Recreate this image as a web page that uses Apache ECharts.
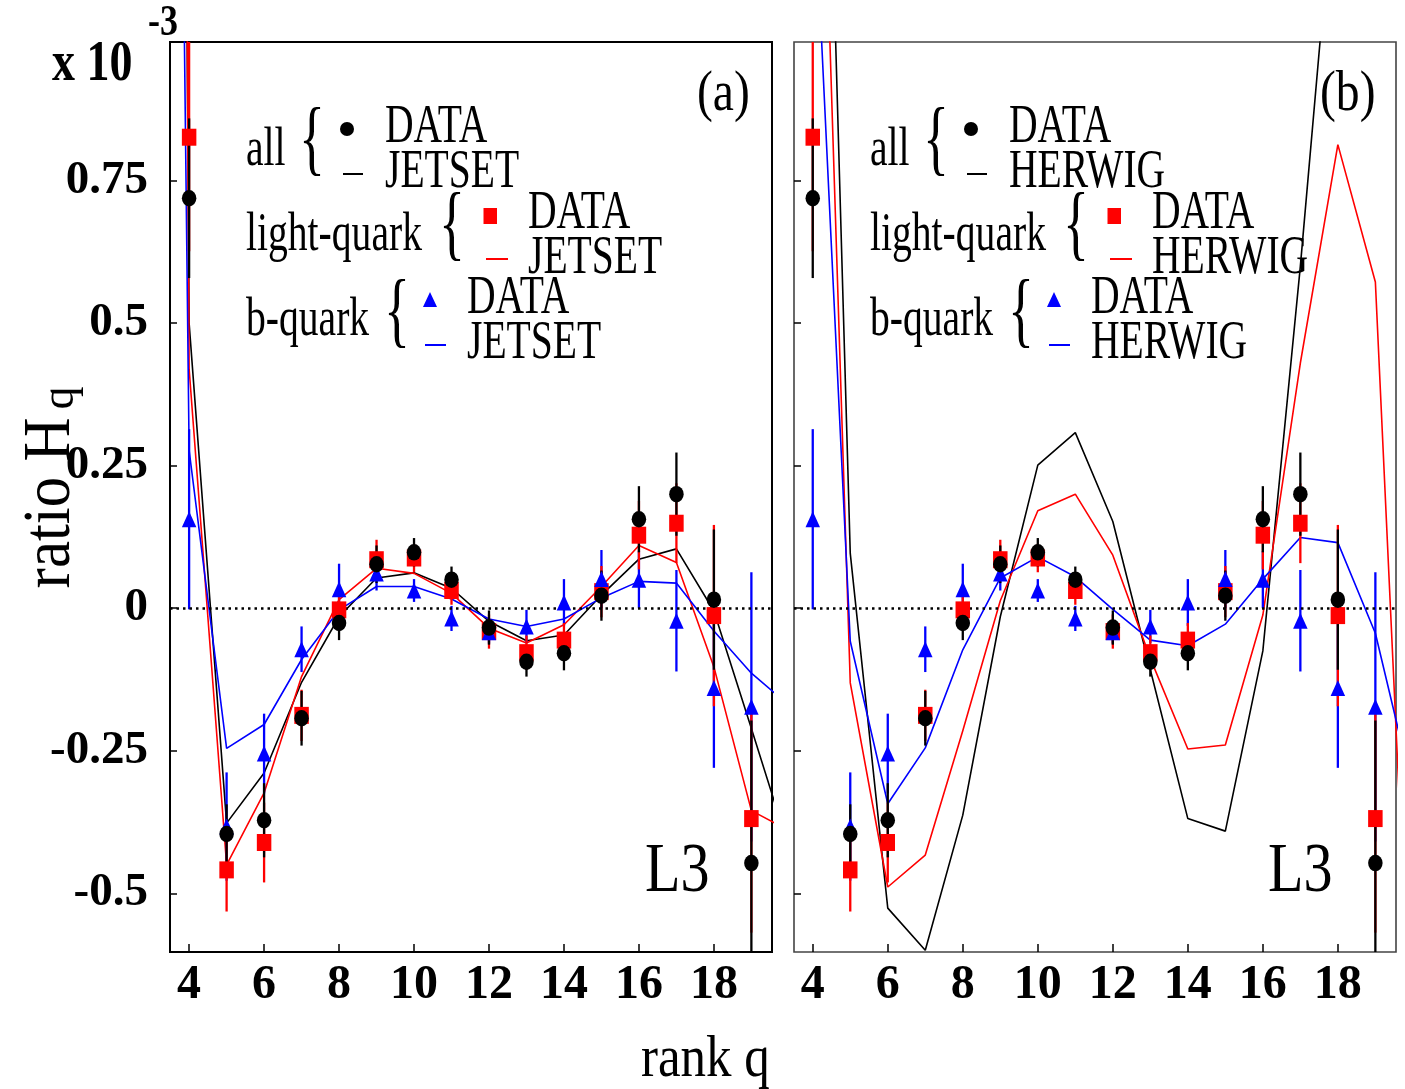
<!DOCTYPE html>
<html><head><meta charset="utf-8">
<script src="https://cdn.jsdelivr.net/npm/echarts@6/dist/echarts.min.js"></script>
<style>html,body{margin:0;padding:0;background:#fff}#c{width:1405px;height:1089px}</style>
</head><body><div id="c"></div>
<script>
// ---------------- data ----------------
const qData = [4,5,6,7,8,9,10,11,12,13,14,15,16,17,18,19];
const allVals  = [0.719,-0.396,-0.372,-0.193,-0.026,0.077,0.098,0.050,-0.034,-0.094,-0.079,0.022,0.156,0.200,0.015,-0.447];
const allErr   = [0.14,0.052,0.065,0.048,0.03,0.033,0.025,0.023,0.03,0.026,0.03,0.044,0.058,0.073,0.123,0.25];
const lightVals= [0.826,-0.459,-0.411,-0.188,-0.003,0.085,0.088,0.031,-0.041,-0.078,-0.056,0.029,0.128,0.149,-0.013,-0.369];
const lightErr = [0.2,0.073,0.07,0.045,0.03,0.035,0.025,0.025,0.03,0.03,0.03,0.045,0.06,0.07,0.159,0.2];
const bVals    = [0.156,-0.383,-0.255,-0.072,0.033,0.061,0.031,-0.018,-0.042,-0.032,0.010,0.051,0.050,-0.022,-0.140,-0.173];
const bErr     = [0.158,0.095,0.07,0.04,0.045,0.03,0.02,0.022,0.02,0.029,0.041,0.051,0.05,0.089,0.14,0.236];

const qJetset = [3,4,5,6,7,8,9,10,11,12,13,14,15,16,17,18,19,20];
const jetsetAll   = [10,0.50,-0.377,-0.289,-0.13,-0.015,0.053,0.062,0.035,-0.023,-0.057,-0.047,0.023,0.086,0.104,-0.005,-0.211,-0.42];
const jetsetLight = [12.3,0.42,-0.45,-0.324,-0.12,0.015,0.070,0.061,0.026,-0.035,-0.061,-0.029,0.038,0.110,0.080,-0.103,-0.355,-0.39];
const jetsetB     = [6,0.277,-0.246,-0.204,-0.09,-0.003,0.038,0.038,0.016,-0.019,-0.032,-0.019,0.018,0.047,0.044,-0.04,-0.114,-0.17];

const qHerwig = [4,5,6,7,8,9,10,11,12,13,14,15,16,17,18,19,20];
const herwigAll   = [2.4,0.096,-0.526,-0.60,-0.363,-0.015,0.251,0.308,0.152,-0.108,-0.369,-0.391,-0.075,0.60,1.35,1.5,1.5];
const herwigLight = [1.94,-0.131,-0.489,-0.433,-0.215,0.013,0.171,0.200,0.093,-0.088,-0.247,-0.240,-0.012,0.43,0.813,0.572,-0.85];
const herwigB     = [1.32,-0.058,-0.343,-0.245,-0.073,0.053,0.090,0.055,-0.002,-0.056,-0.066,-0.028,0.051,0.124,0.115,-0.044,-0.32];

const xTicks = [4,6,8,10,12,14,16,18];
const yTicks = [-0.5,-0.25,0,0.25,0.5,0.75];
const yTickLabels = ['-0.5','-0.25','0','0.25','0.5','0.75'];

// ---------------- helpers ----------------
const SERIF = '"Liberation Serif","Times New Roman",serif';
const C_BLACK = '#000000', C_RED = '#ff0000', C_BLUE = '#0000ff';

function pairs(xs, ys){ return xs.map((x,i)=>[x, ys[i]]); }

function lineSeries(ai, xs, ys, color){
  return {type:'line', xAxisIndex:ai, yAxisIndex:ai, data:pairs(xs,ys), symbol:'none', showSymbol:false,
    clip:true, z:2, silent:true, animation:false, lineStyle:{color, width:1.6}};
}
function errSeries(ai, vals, errs, color, z){
  return {type:'custom', xAxisIndex:ai, yAxisIndex:ai, z, clip:true, silent:true, animation:false,
    data: qData.map((q,i)=>[q, vals[i]-errs[i], vals[i]+errs[i]]),
    encode:{x:0, y:[1,2]},
    renderItem(params, api){
      const lo = api.coord([api.value(0), api.value(1)]);
      const hi = api.coord([api.value(0), api.value(2)]);
      return {type:'line', shape:{x1:lo[0], y1:lo[1], x2:hi[0], y2:hi[1]}, style:{stroke:color, lineWidth:2.3}};
    }};
}
function markSeries(ai, vals, color, symbol, size, z){
  return {type:'scatter', xAxisIndex:ai, yAxisIndex:ai, data:pairs(qData, vals), symbol, symbolSize:size,
    clip:true, z, silent:true, animation:false, itemStyle:{color, opacity:1}};
}
function zeroLine(ai){
  return {type:'line', xAxisIndex:ai, yAxisIndex:ai, data:[], z:1, silent:true, animation:false,
    markLine:{silent:true, symbol:'none', animation:false, label:{show:false},
      lineStyle:{color:'#000', width:2.6, type:[2.5,4]}, data:[{yAxis:0}]}};
}

function T(x, y, text, size, o){
  o = o || {};
  return {type:'text', x, y, scaleX: o.sx == null ? 0.72 : o.sx, scaleY: o.sy == null ? 1 : o.sy,
    rotation: o.rot || 0, z: 100, silent:true,
    style:{text, fontSize:size, fontFamily:SERIF, fontWeight:o.bold ? 'bold' : 'normal', fill:'#000',
      textAlign:o.align || 'left', textVerticalAlign:'middle'}};
}
function brace(x, y){ return T(x, y, '{', 82, {sx:0.66}); }

function legend(dx, mc){
  return [
    T(246+dx, 151, 'all', 55), brace(299+dx, 143),
    {type:'circle', shape:{cx:347+dx, cy:129, r:7}, style:{fill:C_BLACK}, silent:true, z:100},
    {type:'line', shape:{x1:343+dx, y1:174, x2:363+dx, y2:174}, style:{stroke:C_BLACK, lineWidth:2}, silent:true, z:100},
    T(385+dx, 128, 'DATA', 55), T(385+dx, 173, mc, 55),

    T(246+dx, 236, 'light-quark', 55), brace(439+dx, 228),
    {type:'rect', shape:{x:483.5+dx, y:208, width:13.5, height:16}, style:{fill:C_RED}, silent:true, z:100},
    {type:'line', shape:{x1:486+dx, y1:259, x2:508+dx, y2:259}, style:{stroke:C_RED, lineWidth:2}, silent:true, z:100},
    T(528+dx, 214, 'DATA', 55), T(528+dx, 259, mc, 55),

    T(246+dx, 321, 'b-quark', 55), brace(384+dx, 315),
    {type:'polygon', shape:{points:[[430+dx,292],[437+dx,307],[423+dx,307]]}, style:{fill:C_BLUE}, silent:true, z:100},
    {type:'line', shape:{x1:425+dx, y1:345, x2:446+dx, y2:345}, style:{stroke:C_BLUE, lineWidth:2}, silent:true, z:100},
    T(467+dx, 299, 'DATA', 55), T(467+dx, 344, mc, 55)
  ];
}

// ---------------- axes ----------------
const grids = [
  {left:170, top:42, width:602, height:910, show:true, borderColor:'#000', borderWidth:2, backgroundColor:'transparent'},
  {left:794, top:42, width:602, height:910, show:true, borderColor:'#444', borderWidth:1.6, backgroundColor:'transparent'}
];
function xAxis(gi, min){
  return {type:'value', gridIndex:gi, min, max:19.55, position:'bottom',
    axisLine:{show:false, onZero:false}, splitLine:{show:false},
    axisTick:{show:true, inside:true, length:8, customValues:xTicks, lineStyle:{color:'#000', width:1.5}},
    axisLabel:{show:true, customValues:xTicks, margin:10, fontFamily:SERIF, fontWeight:'bold', fontSize:48, color:'#000'}};
}
function yAxis(gi, showLabels){
  return {type:'value', gridIndex:gi, min:-0.603, max:0.993, position:'left',
    axisLine:{show:false, onZero:false}, splitLine:{show:false},
    axisTick:{show:true, inside:true, length:7, customValues:yTicks, lineStyle:{color:'#000', width:1.5}},
    axisLabel:{show:showLabels, customValues:yTicks, margin:22, fontFamily:SERIF, fontWeight:'bold', fontSize:47, color:'#000',
      formatter:(v)=>{ const i = yTicks.findIndex(t=>Math.abs(t-v)<1e-9); return i>=0 ? yTickLabels[i] : ''; }}};
}

const series = [];
[[0, qJetset, [jetsetAll, jetsetLight, jetsetB]], [1, qHerwig, [herwigAll, herwigLight, herwigB]]].forEach(([ai, qs, mcs])=>{
  series.push(zeroLine(ai));
  series.push(lineSeries(ai, qs, mcs[0], C_BLACK));
  series.push(lineSeries(ai, qs, mcs[1], C_RED));
  series.push(lineSeries(ai, qs, mcs[2], C_BLUE));
  series.push(errSeries(ai, bVals, bErr, C_BLUE, 3));
  series.push(errSeries(ai, lightVals, lightErr, C_RED, 4));
  series.push(errSeries(ai, allVals, allErr, C_BLACK, 5));
  series.push(markSeries(ai, lightVals, C_RED, 'rect', [14.5,17], 6));
  series.push(markSeries(ai, bVals, C_BLUE, 'triangle', [14.5,16], 7));
  series.push(markSeries(ai, allVals, C_BLACK, 'circle', [14.5,16.5], 8));
});

const graphics = [].concat(
  legend(0, 'JETSET'), legend(624, 'HERWIG'),
  [
    T(697, 95, '(a)', 56, {sx:0.85}), T(1320, 95, '(b)', 56, {sx:0.85}),
    T(645, 873, 'L3', 70, {sx:0.83}), T(1268, 873, 'L3', 70, {sx:0.83}),
    T(641, 1060, 'rank q', 60, {sx:0.85}),
    T(52, 66, 'x 10', 56, {sx:0.82, bold:true}),
    T(148, 23, '-3', 45, {sx:0.8, bold:true}),
    T(51, 503, 'ratio H', 58, {sx:1.05, sy:1.15, rot:Math.PI/2, align:'center'}),
    T(61, 398, 'q', 46, {sx:1, rot:Math.PI/2, align:'center'})
  ]
);

const chart = echarts.init(document.getElementById('c'), null, {renderer:'canvas', width:1405, height:1089});
chart.setOption({
  animation:false, backgroundColor:'#fff',
  grid:grids,
  xAxis:[xAxis(0, 3.49), xAxis(1, 3.5)],
  yAxis:[yAxis(0, true), yAxis(1, false)],
  series,
  graphic:{elements:graphics}
});
</script></body></html>
